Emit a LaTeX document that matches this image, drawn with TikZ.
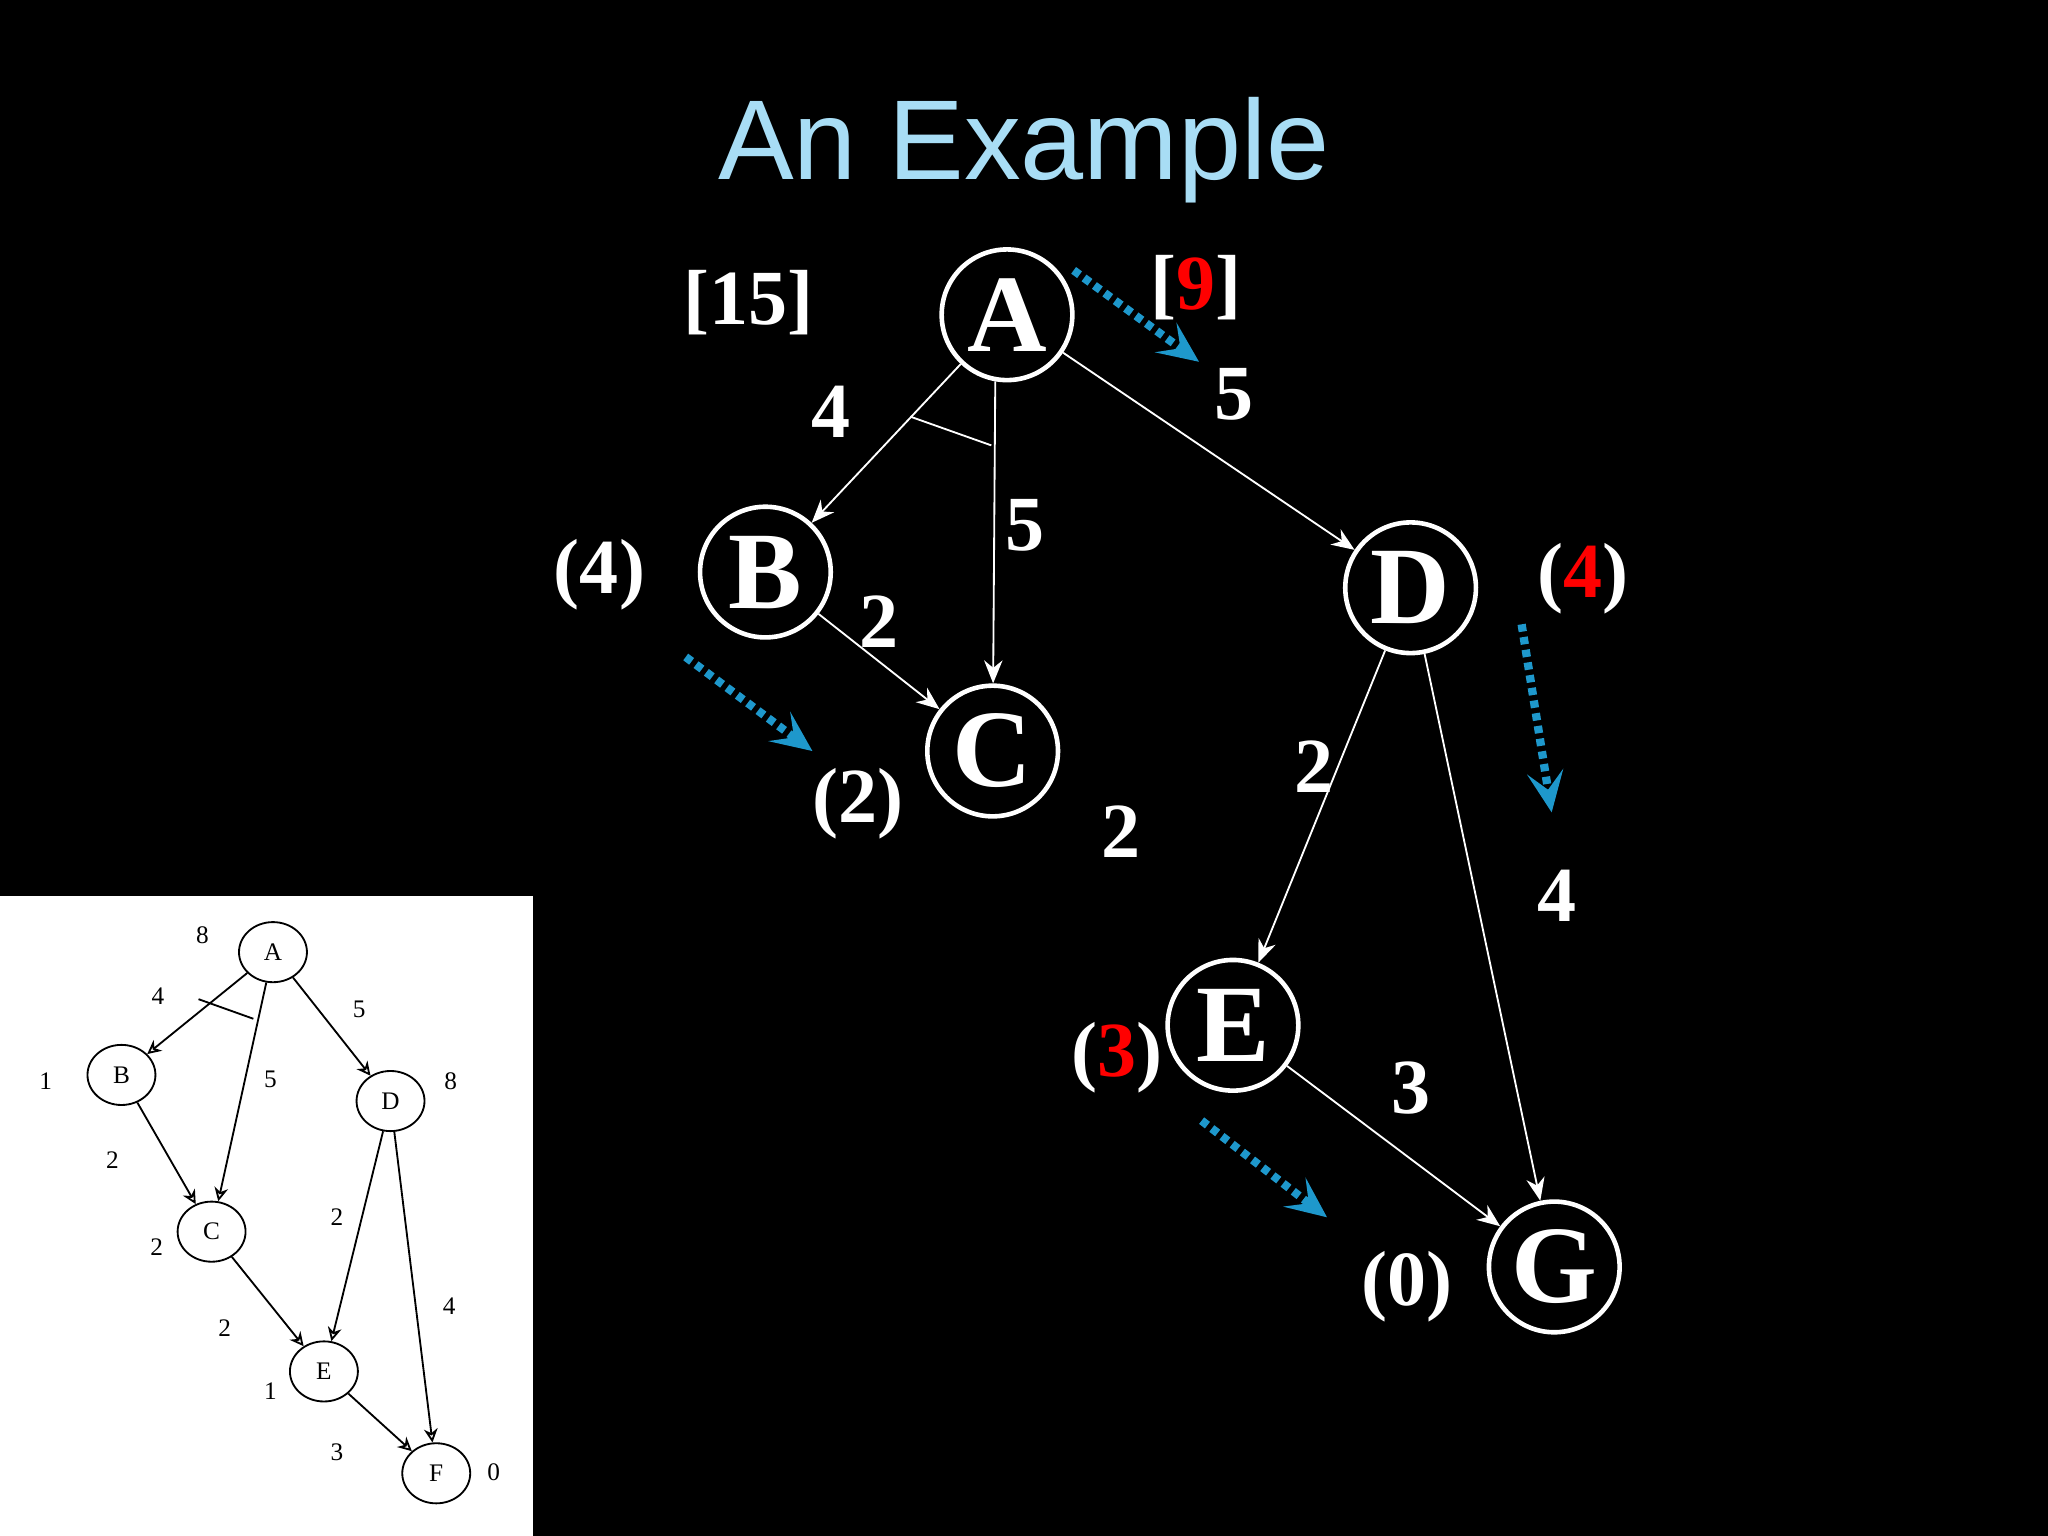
\documentclass[tikz,border=0pt]{standalone}
\usepackage{fontspec}
\setmainfont{Liberation Serif}
\newfontfamily\titlefont{Liberation Sans}
\usetikzlibrary{arrows.meta,shapes.geometric}
\definecolor{ttl}{HTML}{A8DDF5}
\definecolor{blu}{HTML}{1E98CC}
\begin{document}
\begin{tikzpicture}[x=0.01cm,y=-0.01cm,
  big/.style={circle,draw=white,line width=1pt,minimum size=1cm,inner sep=0pt,text=white,font=\bfseries\fontsize{24}{24}\selectfont},
  lab/.style={text=white,font=\bfseries\fontsize{17}{17}\selectfont},
  edge/.style={draw=white,line width=0.4pt,-{Stealth[length=5pt,width=4pt]}},
  hint/.style={draw=blu,line width=1.8pt,dash pattern=on 1.6pt off 1.2pt,-{Stealth[length=9pt,width=8pt,inset=4pt,line width=0.5pt]}},
  sn/.style={ellipse,draw=black,line width=0.4pt,minimum width=0.52cm,minimum height=0.46cm,inner sep=0pt,font=\fontsize{5.5}{5.5}\selectfont},
  sl/.style={font=\fontsize{5.5}{5.5}\selectfont},
  sedge/.style={draw=black,line width=0.4pt,-{Stealth[length=3pt,width=3pt,open]}}]
\fill[black] (0,0) rectangle (1568,1176);
\node[text=ttl,font=\titlefont\fontsize{24.7}{24.7}\selectfont] (t) at (784,115) {An Example};
\node[big] (A) at (771,241) {A};
\node[big] (B) at (586,438) {B};
\node[big] (C) at (760,575) {C};
\node[big] (D) at (1080,450) {D};
\node[big] (E) at (944,785) {E};
\node[big] (G) at (1190,970) {G};
\draw[edge] (A) -- (B);
\draw[edge] (A.-100) -- (C);
\draw[edge] (A) -- (D);
\draw[edge] (B) -- (C);
\draw[edge] (D) -- (E);
\draw[edge] (D) -- (G);
\draw[edge] (E) -- (G);
\coordinate (m1) at (697,319); \coordinate (m2) at (759,341);
\draw[white,line width=0.4pt] (m1) -- (m2);
\node[lab] (l1) at (636,315) {4};
\node[lab] (l2) at (785,402) {5};
\node[lab] (l3) at (945,302) {5};
\node[lab] (l4) at (673,476) {2};
\node[lab] (l5) at (858,637) {2};
\node[lab] (l6) at (1006,587) {2};
\node[lab] (l7) at (1192,686) {4};
\node[lab] (l8) at (1080,833) {3};
\node[lab] (h1) at (573,232) {[15]};
\node[lab] (h2) at (916,220) {[\textcolor{red}{9}]};
\node[lab] (h3) at (459,440) {(4)};
\node[lab] (h4) at (657,615) {(2)};
\node[lab] (h5) at (1212,443) {(\textcolor{red}{4})};
\node[lab] (h6) at (855,810) {(\textcolor{red}{3})};
\node[lab] (h7) at (1077,985) {(0)};
\coordinate (b1s) at (822,207); \coordinate (b1e) at (918,277);
\coordinate (b2s) at (525,503); \coordinate (b2e) at (622,575);
\coordinate (b3s) at (1165,478); \coordinate (b3e) at (1188,622);
\coordinate (b4s) at (920,858); \coordinate (b4e) at (1016,932);
\draw[hint] (b1s) -- (b1e);
\draw[hint] (b2s) -- (b2e);
\draw[hint] (b3s) -- (b3e);
\draw[hint] (b4s) -- (b4e);
% inset
\fill[white] (0,686) rectangle (408,1176);
\node[sn] (a) at (209,729) {A};
\node[sn] (b) at (93,823) {B};
\node[sn] (c) at (162,943) {C};
\node[sn] (d) at (299,843) {D};
\node[sn] (e) at (248,1050) {E};
\node[sn] (f) at (334,1128) {F};
\draw[sedge] (a) -- (b);
\draw[sedge] (a) -- (c);
\draw[sedge] (a) -- (d);
\draw[sedge] (b) -- (c);
\draw[sedge] (c) -- (e);
\draw[sedge] (d) -- (e);
\draw[sedge] (d) -- (f);
\draw[sedge] (e) -- (f);
\coordinate (n1) at (152,765); \coordinate (n2) at (194,780);
\draw[line width=0.4pt] (n1) -- (n2);
\node[sl] (s1) at (155,716) {8};
\node[sl] (s2) at (121,763) {4};
\node[sl] (s3) at (275,773) {5};
\node[sl] (s4) at (207,826) {5};
\node[sl] (s5) at (35,828) {1};
\node[sl] (s6) at (345,828) {8};
\node[sl] (s7) at (86,888) {2};
\node[sl] (s8) at (258,932) {2};
\node[sl] (s9) at (120,955) {2};
\node[sl] (s10) at (172,1017) {2};
\node[sl] (s11) at (344,1000) {4};
\node[sl] (s12) at (207,1065) {1};
\node[sl] (s13) at (258,1112) {3};
\node[sl] (s14) at (378,1127) {0};
\end{tikzpicture}
\end{document}
